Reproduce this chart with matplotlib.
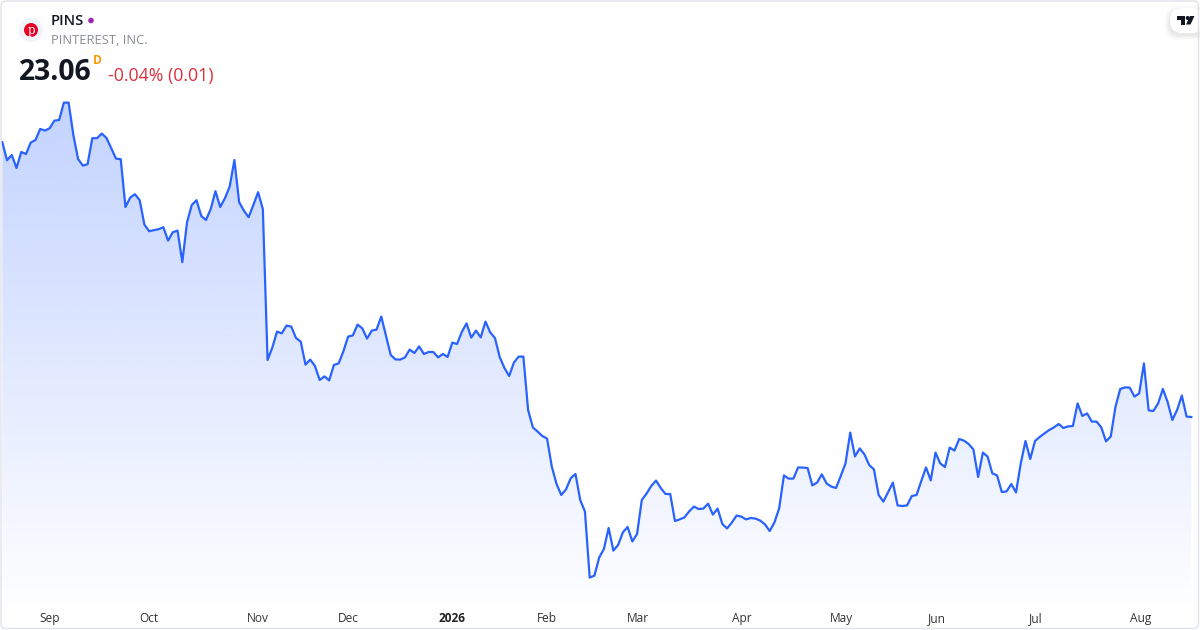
import numpy as np
import matplotlib
matplotlib.use('Agg')
import matplotlib.pyplot as plt
from matplotlib.patches import Circle, FancyBboxPatch, Polygon

plt.rcParams['font.family'] = ['Open Sans', 'DejaVu Sans']

# daily close (no price axis there, scale anchored on the last close)
close = [
    36.80, 35.90, 36.16, 35.51, 36.31, 36.21, 36.78, 36.91, 37.46, 37.38,
    37.50, 37.88, 37.91, 38.78, 38.78, 37.16, 35.96, 35.63, 35.70, 37.00,
    37.00, 37.23, 37.01, 36.50, 35.98, 35.95, 33.56, 34.03, 34.20, 33.90,
    32.68, 32.35, 32.40, 32.45, 32.55, 31.88, 32.30, 32.38, 30.80, 32.80,
    33.66, 33.90, 33.11, 32.91, 33.46, 34.35, 33.56, 34.00, 34.58, 35.91,
    33.80, 33.38, 33.05, 33.66, 34.30, 33.46,
    25.91, 26.53, 27.33, 27.24, 27.63, 27.58, 27.01, 26.83, 25.68, 25.93,
    25.61, 24.91, 25.09, 24.89, 25.66, 25.74, 26.34, 27.08, 27.14, 27.68,
    27.49, 26.98, 27.38, 27.43, 28.08, 27.11, 26.16, 25.94, 25.93, 26.04,
    26.43, 26.26, 26.59, 26.21, 26.31, 26.31, 26.04, 26.21, 26.06, 26.78,
    26.71, 27.31, 27.74, 27.03, 27.38, 27.04, 27.83, 27.29, 27.01, 26.06,
    25.51, 25.11, 25.78, 26.08, 26.08, 23.41, 22.54, 22.33, 22.11, 21.98,
    20.58, 19.71, 19.16, 19.44, 20.00, 20.21, 18.91, 18.33, 15.03, 15.13,
    16.03, 16.46, 17.51, 16.38, 16.66, 17.29, 17.56, 16.84, 17.21, 18.91,
    19.23, 19.61, 19.88, 19.51, 19.21, 19.21, 17.86, 17.94, 18.04, 18.34,
    18.58, 18.46, 18.48, 18.73, 18.18, 18.48, 17.71, 17.49, 17.78, 18.13,
    18.08, 17.94, 18.01, 17.98, 17.88, 17.69, 17.36, 17.79, 18.49, 20.14,
    19.98, 19.98, 20.54, 20.53, 20.51, 19.64, 19.78, 20.19, 19.74, 19.58,
    19.51, 20.11, 20.74, 22.28, 21.09, 21.49, 21.19, 20.66, 20.44, 19.16,
    18.83, 19.31, 19.78, 18.64, 18.61, 18.64, 19.11, 19.16, 19.86, 20.54,
    19.89, 21.28, 20.74, 20.56, 21.53, 21.38, 21.96, 21.88, 21.71, 21.44,
    20.06, 21.28, 21.08, 20.24, 20.14, 19.31, 19.34, 19.71, 19.29, 20.74,
    21.86, 20.96, 21.86, 22.06, 22.24, 22.41, 22.54, 22.71, 22.51, 22.59,
    22.61, 23.74, 23.11, 23.24, 22.83, 22.83, 22.54, 21.84, 22.09, 23.58,
    24.46, 24.54, 24.53, 24.08, 24.24, 25.74, 23.39, 23.36, 23.74, 24.46,
    23.81, 22.91, 23.41, 24.13, 23.08, 23.06,
]
month_labels = ['Sep', 'Oct', 'Nov', 'Dec', '2026', 'Feb', 'Mar', 'Apr', 'May', 'Jun', 'Jul', 'Aug']
month_pos = [10, 31, 54, 73, 95, 115, 134.2, 156.2, 177.1, 197.2, 218.2, 240.4]

close = np.array(close)
days = np.arange(len(close))
W, H = 1200, 630
step = (1191.3 - 2.3) / (len(close) - 1)
x0 = -2.3 / step
x1 = x0 + W / step
top, bottom = 43.91, 12.41

fig = plt.figure(figsize=(W / 100, H / 100), dpi=100, facecolor='white')
ax = fig.add_axes([0, 0, 1, 1])
ax.set_xlim(x0, x1)
ax.set_ylim(bottom, top)

# gradient under the line
fill = ax.fill_between(days, close, bottom, color='none', linewidth=0)
grad = np.zeros((256, 1, 4))
grad[..., :3] = matplotlib.colors.to_rgb('#2962FF')
grad[..., 3] = np.linspace(0.28, 0.0, 256)[:, None]
im = ax.imshow(grad, extent=[x0, x1, 13.0, close.max()], origin='upper', aspect='auto', zorder=1)
im.set_clip_path(fill.get_paths()[0], transform=ax.transData)
ax.set_xlim(x0, x1)
ax.set_ylim(bottom, top)

ax.plot(days, close, color='#2962FF', lw=1.6, solid_joinstyle='round', zorder=2)

ax.set_xticks(month_pos)
ax.set_xticklabels(month_labels)
ax.tick_params(axis='x', direction='in', pad=-13, length=0, labelsize=8.6, labelcolor='#333333')
ax.set_yticks([])
for lab in ax.get_xticklabels():
    if lab.get_text() == '2026':
        lab.set_fontweight('bold')
        lab.set_color('#222222')
for s in ax.spines.values():
    s.set_visible(False)

# overlay in pixels for the header, logos and card border
ov = fig.add_axes([0, 0, 1, 1], facecolor='none')
ov.set_xlim(0, W)
ov.set_ylim(H, 0)
ov.axis('off')

ov.add_patch(Circle((31, 30), 12, fc='#F0F3FA', ec='none'))
ov.add_patch(Circle((31, 30), 7, fc='#E60023', ec='none'))
ov.text(31, 30.5, 'p', color='white', fontsize=8.5, ha='center', va='center', family='DejaVu Serif')

ov.text(51, 21, 'PINS', color='#131722', fontsize=10.6, fontweight='semibold', va='center')
ov.add_patch(Circle((91, 20.5), 2.8, fc='#9C27B0', ec='none'))
ov.text(51, 41, 'PINTEREST, INC.', color='#8A8D96', fontsize=9.4, va='center')
ov.text(19, 72.5, '23.06', color='#131722', fontsize=20.3, fontweight='bold', va='center')
ov.text(93, 61, 'D', color='#FF9800', fontsize=8.6, fontweight='bold', va='center')
ov.text(108, 75.5, '-0.04% (0.01)', color='#D9303E', fontsize=12.8, va='center')

# tradingview badge with a soft shadow under it
for off, a in [(5, 0.012), (4, 0.015), (3, 0.018), (2, 0.02), (1, 0.025)]:
    ov.add_patch(FancyBboxPatch((1170 - off, 9 + 2 - off), 34 + 2 * off, 24 + 2 * off,
                                boxstyle='round,pad=0,rounding_size=12', fc='black', ec='none', alpha=a))
ov.add_patch(FancyBboxPatch((1170, 8), 34, 25, boxstyle='round,pad=0,rounding_size=12', fc='white', ec='none'))
ov.add_patch(Polygon([(1177, 16), (1185, 16), (1185, 24.5), (1181, 24.5), (1181, 20), (1177, 20)], fc='#131722', ec='none'))
ov.add_patch(Circle((1187.7, 18), 2, fc='#131722', ec='none'))
ov.add_patch(Polygon([(1190, 16), (1194.5, 16), (1190.5, 24.5), (1186, 24.5)], fc='#131722', ec='none'))

ov.add_patch(FancyBboxPatch((1, 1), W - 2.5, H - 2.5, boxstyle='round,pad=0,rounding_size=5',
                            fc='none', ec='#E0E3EB', lw=1))
ov.set_xlim(0, W)
ov.set_ylim(H, 0)

fig.savefig('out.png', dpi=100)
